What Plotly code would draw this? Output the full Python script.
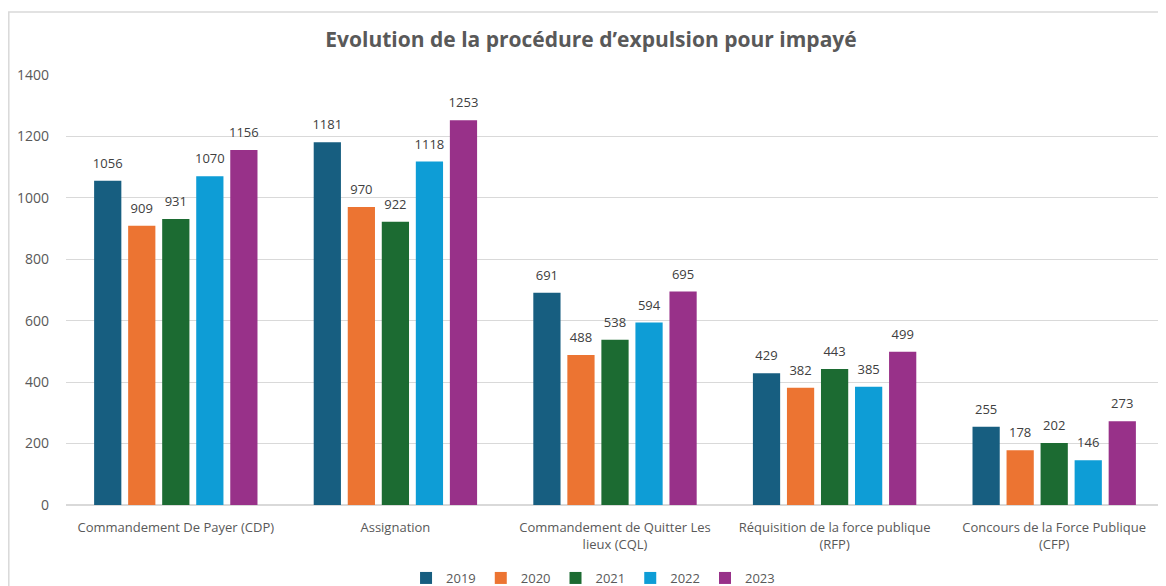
import plotly.graph_objects as go

categories = [
    "Commandement De Payer (CDP)",
    "Assignation",
    "Commandement de Quitter Les<br>lieux (CQL)",
    "Réquisition de la force publique<br>(RFP)",
    "Concours de la Force Publique<br>(CFP)",
]
years = ["2019", "2020", "2021", "2022", "2023"]
v2019 = [1056, 1181, 691, 429, 255]
v2020 = [909, 970, 488, 382, 178]
v2021 = [931, 922, 538, 443, 202]
v2022 = [1070, 1118, 594, 385, 146]
v2023 = [1156, 1253, 695, 499, 273]
series = [v2019, v2020, v2021, v2022, v2023]
colors = ["#175E80", "#EC7432", "#1C6B32", "#0E9DD6", "#983189"]

fig = go.Figure()
for name, vals, col in zip(years, series, colors):
    fig.add_trace(go.Bar(
        x=categories, y=vals, name=name, marker=dict(color=col, line=dict(width=0)),
    ))
for name, vals in zip(years, series):
    fig.add_trace(go.Scatter(
        x=categories, y=vals, mode="markers+text", showlegend=False, hoverinfo="skip",
        marker=dict(size=14, color="rgba(0,0,0,0)"),
        text=[str(v) for v in vals], textposition="top center",
        textfont=dict(size=13, color="#404040", family="Open Sans"),
        cliponaxis=False,
    ))

fig.update_layout(
    width=1166, height=586,
    margin=dict(l=58, r=10, t=67, b=89),
    paper_bgcolor="white", plot_bgcolor="white",
    barmode="group", bargap=0.225, bargroupgap=0.2,
    scattermode="group", scattergap=0.225,
    title=dict(text="<b>Evolution de la procédure d’expulsion pour impayé</b>",
               x=0.5, xanchor="center", y=0.946, yanchor="middle",
               font=dict(size=21, color="#595959", family="Open Sans")),
    font=dict(family="Open Sans", color="#595959"),
    yaxis=dict(range=[0, 1400], dtick=200, showgrid=True, gridcolor="#D9D9D9",
               gridwidth=1, zeroline=True, zerolinecolor="#D9D9D9", automargin=False,
               tickfont=dict(size=14, color="#595959"), ticks="", ticklabelstandoff=16),
    xaxis=dict(tickfont=dict(size=13, color="#595959"), showline=False, ticks="",
               automargin=False, ticklabelstandoff=13),
    legend=dict(orientation="h", x=0.48, xanchor="center", y=0.0273, yanchor="middle",
                yref="container",
                font=dict(size=13, color="#595959"), itemwidth=30, traceorder="normal"),
)
fig.add_shape(type="rect", xref="paper", yref="paper",
              x0=(0.8 - 58) / 1098, x1=1.02, y0=-0.3, y1=(497 - 4) / 430,
              line=dict(color="#D9D9D9", width=1.5), fillcolor="rgba(0,0,0,0)", layer="below")
fig.write_html("out.html")
